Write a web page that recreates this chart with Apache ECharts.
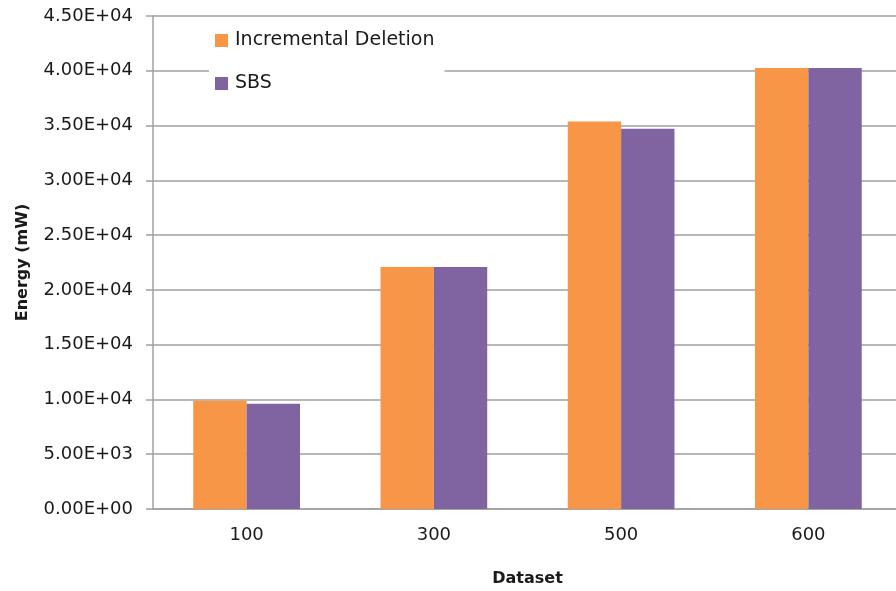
<!DOCTYPE html>
<html><head><meta charset="utf-8">
<script src="https://cdn.jsdelivr.net/npm/echarts@6/dist/echarts.min.js"></script>
<style>html,body{margin:0;padding:0;background:#fff}#c{width:896px;height:591px}</style>
</head><body><div id="c"></div>
<script>
var categories = ['100', '300', '500', '600'];
var incrementalDeletion = [9880, 22100, 35370, 40250];
var sbs = [9610, 22100, 34700, 40250];
var yTicks = [0, 5000, 10000, 15000, 20000, 25000, 30000, 35000, 40000, 45000];

function fmt(v) {
  if (v === 0) return '0.00E+00';
  var e = Math.floor(Math.log10(v));
  var m = v / Math.pow(10, e);
  return m.toFixed(2) + 'E+' + (e < 10 ? '0' : '') + e;
}

var chart = echarts.init(document.getElementById('c'));
var font = 'DejaVu Sans';
chart.setOption({
  animation: false,
  textStyle: {fontFamily: font},
  grid: {left: 153, width: 749, top: 16, bottom: 82, containLabel: false, outerBoundsMode: 'none'},
  legend: {
    orient: 'vertical', left: 209, top: 28, itemGap: 24,
    itemWidth: 13, itemHeight: 13, icon: 'rect',
    backgroundColor: '#fff', padding: [3, 10, 3, 6],
    textStyle: {fontFamily: font, fontSize: 19, color: '#1a1a1a', padding: [0, 0, 0, 2]},
    data: ['Incremental Deletion', 'SBS']
  },
  xAxis: {
    type: 'category', data: categories,
    name: 'Dataset', nameLocation: 'middle', nameGap: 62,
    nameTextStyle: {fontFamily: font, fontSize: 16, fontWeight: 'bold', color: '#1a1a1a'},
    axisLine: {lineStyle: {color: '#a0a0a0', width: 1.5}},
    axisTick: {show: false},
    axisLabel: {fontFamily: font, fontSize: 18, color: '#1a1a1a', margin: 17}
  },
  yAxis: {
    type: 'value', min: yTicks[0], max: yTicks[yTicks.length - 1], interval: 5000,
    name: 'Energy (mW)', nameLocation: 'middle', nameGap: 122, nameRotate: 90,
    nameTextStyle: {fontFamily: font, fontSize: 16, fontWeight: 'bold', color: '#1a1a1a'},
    axisLine: {show: true, lineStyle: {color: '#a0a0a0', width: 1.5}},
    axisTick: {show: true, length: 7, lineStyle: {color: '#a0a0a0', width: 1.5}},
    splitLine: {lineStyle: {color: '#a0a0a0', width: 1.5}},
    axisLabel: {fontFamily: font, fontSize: 18, color: '#1a1a1a', margin: 20, formatter: fmt}
  },
  series: [
    {name: 'Incremental Deletion', type: 'bar', data: incrementalDeletion,
     itemStyle: {color: '#F79646'}, barGap: '0%', barCategoryGap: '43%'},
    {name: 'SBS', type: 'bar', data: sbs,
     itemStyle: {color: '#8064A2'}, barGap: '0%', barCategoryGap: '43%'}
  ]
});
</script></body></html>
